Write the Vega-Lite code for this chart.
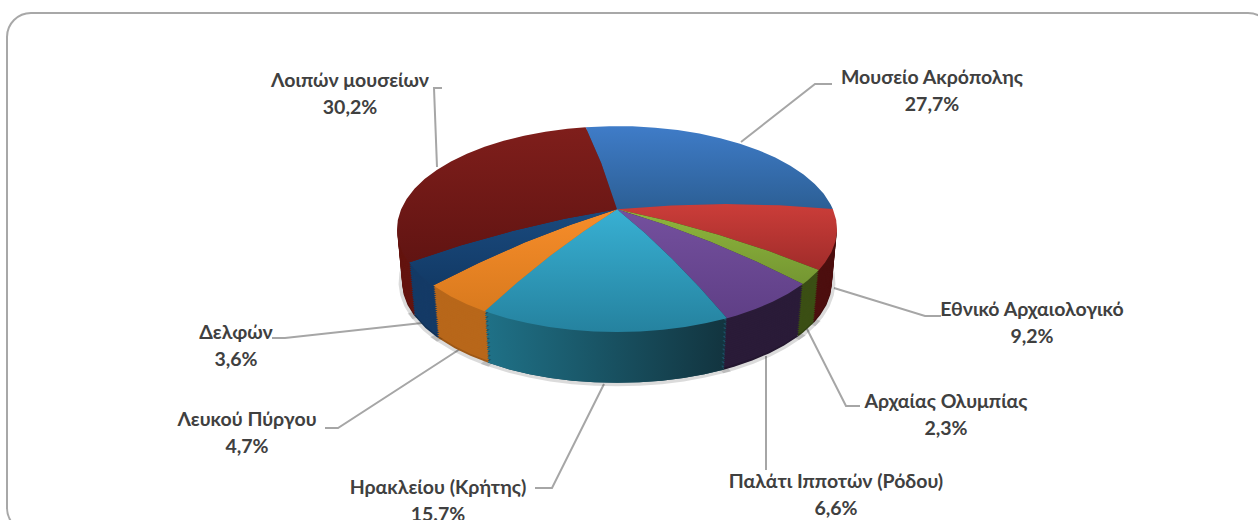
{"$schema":"https://vega.github.io/schema/vega-lite/v6.json","width":1258,"height":520,"padding":0,"autosize":"none","background":"#ffffff","view":{"stroke":null},
"datasets":{
"slices":[
{"type":"Feature","properties":{"name":"Μουσείο Ακρόπολης","share":27.7},"geometry":{"type":"Polygon","coordinates":[[[0,89.99],[188.2,78.3],[182,78.3],[176,78.3],[170,78.3],[164,78.3],[158,78.3],[152,78.3],[146,78.3],[140,78.3],[134,78.3],[128,78.3],[122,78.3],[116,78.3],[110,78.3],[104,78.3],[101.2,78.3],[0,89.99]]]}},
{"type":"Feature","properties":{"name":"Εθνικό Αρχαιολογικό","share":9.2},"geometry":{"type":"Polygon","coordinates":[[[0,89.99],[101.2,78.3],[95,78.3],[89,78.3],[83,78.3],[77,78.3],[71,78.3],[66.6,78.3],[0,89.99]]]}},
{"type":"Feature","properties":{"name":"Αρχαίας Ολυμπίας","share":2.3},"geometry":{"type":"Polygon","coordinates":[[[0,89.99],[66.6,78.3],[60,78.3],[57.7,78.3],[0,89.99]]]}},
{"type":"Feature","properties":{"name":"Παλάτι Ιπποτών (Ρόδου)","share":6.6},"geometry":{"type":"Polygon","coordinates":[[[0,89.99],[57.7,78.3],[51,78.3],[45,78.3],[39,78.3],[33,78.3],[30,78.3],[0,89.99]]]}},
{"type":"Feature","properties":{"name":"Ηρακλείου (Κρήτης)","share":15.7},"geometry":{"type":"Polygon","coordinates":[[[0,89.99],[30,78.3],[24,78.3],[18,78.3],[12,78.3],[6,78.3],[0,78.3],[-6,78.3],[-12,78.3],[-18,78.3],[-24,78.3],[-30,78.3],[-37,78.3],[0,89.99]]]}},
{"type":"Feature","properties":{"name":"Λευκού Πύργου","share":4.7},"geometry":{"type":"Polygon","coordinates":[[[0,89.99],[-37,78.3],[-43,78.3],[-49,78.3],[-56.7,78.3],[0,89.99]]]}},
{"type":"Feature","properties":{"name":"Δελφών","share":3.6},"geometry":{"type":"Polygon","coordinates":[[[0,89.99],[-56.7,78.3],[-63,78.3],[-71,78.3],[0,89.99]]]}},
{"type":"Feature","properties":{"name":"Λοιπών μουσείων","share":30.2},"geometry":{"type":"Polygon","coordinates":[[[0,89.99],[-71,78.3],[-77,78.3],[-83,78.3],[-89,78.3],[-95,78.3],[-101,78.3],[-107,78.3],[-113,78.3],[-119,78.3],[-125,78.3],[-131,78.3],[-137,78.3],[-143,78.3],[-149,78.3],[-155,78.3],[-161,78.3],[-167,78.3],[-171.8,78.3],[0,89.99]]]}}
],
"labels":[
{"label":"Μουσείο Ακρόπολης\n27,7%","labelX":932,"labelY":78},
{"label":"Εθνικό Αρχαιολογικό\n9,2%","labelX":1032,"labelY":310},
{"label":"Αρχαίας Ολυμπίας\n2,3%","labelX":946,"labelY":402},
{"label":"Παλάτι Ιπποτών (Ρόδου)\n6,6%","labelX":836,"labelY":482},
{"label":"Ηρακλείου (Κρήτης)\n15.7%","labelX":438,"labelY":488},
{"label":"Λευκού Πύργου\n4,7%","labelX":247,"labelY":420},
{"label":"Δελφών\n3,6%","labelX":236,"labelY":333},
{"label":"Λοιπών μουσείων\n30,2%","labelX":350,"labelY":81}
],
"leaders":[
{"id":"a","i":0,"px":741,"py":142},{"id":"a","i":1,"px":815,"py":84},{"id":"a","i":2,"px":832,"py":84},
{"id":"b","i":0,"px":834,"py":288},{"id":"b","i":1,"px":925,"py":316},{"id":"b","i":2,"px":941,"py":316},
{"id":"c","i":0,"px":806,"py":327},{"id":"c","i":1,"px":846,"py":406},{"id":"c","i":2,"px":860,"py":406},
{"id":"d","i":0,"px":766,"py":356},{"id":"d","i":1,"px":766,"py":470},
{"id":"e","i":0,"px":604,"py":384},{"id":"e","i":1,"px":552,"py":488},{"id":"e","i":2,"px":535,"py":488},
{"id":"f","i":0,"px":460,"py":349},{"id":"f","i":1,"px":338,"py":428},{"id":"f","i":2,"px":325,"py":428},
{"id":"g","i":0,"px":422,"py":323},{"id":"g","i":1,"px":285,"py":338},{"id":"g","i":2,"px":272,"py":338},
{"id":"h","i":0,"px":437,"py":167},{"id":"h","i":1,"px":434,"py":88},{"id":"h","i":2,"px":442,"py":88}
],
"frame":[{"x0":7,"x1":1272,"y0":13,"y1":532}]
},
"layer":[
{"data":{"name":"frame"},"mark":{"type":"rect","filled":false,"stroke":"#a8a8a8","strokeWidth":2,"cornerRadius":24,"clip":true},
"encoding":{"x":{"field":"x0","type":"quantitative","axis":null,"scale":{"domain":[0,1258],"nice":false,"zero":false}},"x2":{"field":"x1"},"y":{"field":"y0","type":"quantitative","axis":null,"scale":{"domain":[520,0],"nice":false,"zero":false}},"y2":{"field":"y1"}}},
{"data":{"name":"leaders"},"mark":{"type":"line","stroke":"#a6a6a6","strokeWidth":2,"interpolate":"linear"},
"encoding":{"x":{"field":"px","type":"quantitative","axis":null,"scale":{"domain":[0,1258],"nice":false,"zero":false}},"y":{"field":"py","type":"quantitative","axis":null,"scale":{"domain":[520,0],"nice":false,"zero":false}},"detail":{"field":"id"},"order":{"field":"i"}}},
{"data":{"name":"slices"},
"encoding":{"color":{"field":"properties.name","type":"nominal","legend":null,"scale":{
"domain":["Μουσείο Ακρόπολης","Εθνικό Αρχαιολογικό","Αρχαίας Ολυμπίας","Παλάτι Ιπποτών (Ρόδου)","Ηρακλείου (Κρήτης)","Λευκού Πύργου","Δελφών","Λοιπών μουσείων"],
"range":["#2a5a8c","#4d0f0f","#3b4f14","#2a1b38","#1a5266","#b8671a","#143a66","#64140f"]}}},
"layer":[
{"mark":{"type":"geoshape","stroke":"#000000","strokeOpacity":0.14,"strokeWidth":7},"projection":{"type":"orthographic","rotate":[0,-27.9,0],"precision":0.5,"scale":1060,"translate":[617,1199.6]}},
{"mark":{"type":"geoshape"},"projection":{"type":"orthographic","rotate":[0,-27.9,0],"precision":0.505,"scale":1061.04,"translate":[617,1198.28]}},
{"mark":{"type":"geoshape"},"projection":{"type":"orthographic","rotate":[0,-27.9,0],"precision":0.51,"scale":1062.08,"translate":[617,1196.97]}},
{"mark":{"type":"geoshape"},"projection":{"type":"orthographic","rotate":[0,-27.9,0],"precision":0.515,"scale":1063.13,"translate":[617,1195.65]}},
{"mark":{"type":"geoshape"},"projection":{"type":"orthographic","rotate":[0,-27.9,0],"precision":0.52,"scale":1064.17,"translate":[617,1194.33]}},
{"mark":{"type":"geoshape"},"projection":{"type":"orthographic","rotate":[0,-27.9,0],"precision":0.525,"scale":1065.21,"translate":[617,1193.02]}},
{"mark":{"type":"geoshape"},"projection":{"type":"orthographic","rotate":[0,-27.9,0],"precision":0.53,"scale":1066.25,"translate":[617,1191.7]}},
{"mark":{"type":"geoshape"},"projection":{"type":"orthographic","rotate":[0,-27.9,0],"precision":0.535,"scale":1067.29,"translate":[617,1190.38]}},
{"mark":{"type":"geoshape"},"projection":{"type":"orthographic","rotate":[0,-27.9,0],"precision":0.54,"scale":1068.33,"translate":[617,1189.07]}},
{"mark":{"type":"geoshape"},"projection":{"type":"orthographic","rotate":[0,-27.9,0],"precision":0.545,"scale":1069.38,"translate":[617,1187.75]}},
{"mark":{"type":"geoshape"},"projection":{"type":"orthographic","rotate":[0,-27.9,0],"precision":0.55,"scale":1070.42,"translate":[617,1186.43]}},
{"mark":{"type":"geoshape"},"projection":{"type":"orthographic","rotate":[0,-27.9,0],"precision":0.555,"scale":1071.46,"translate":[617,1185.12]}},
{"mark":{"type":"geoshape"},"projection":{"type":"orthographic","rotate":[0,-27.9,0],"precision":0.56,"scale":1072.5,"translate":[617,1183.8]}},
{"mark":{"type":"geoshape"},"projection":{"type":"orthographic","rotate":[0,-27.9,0],"precision":0.565,"scale":1073.54,"translate":[617,1182.48]}},
{"mark":{"type":"geoshape"},"projection":{"type":"orthographic","rotate":[0,-27.9,0],"precision":0.57,"scale":1074.58,"translate":[617,1181.17]}},
{"mark":{"type":"geoshape"},"projection":{"type":"orthographic","rotate":[0,-27.9,0],"precision":0.575,"scale":1075.63,"translate":[617,1179.85]}},
{"mark":{"type":"geoshape"},"projection":{"type":"orthographic","rotate":[0,-27.9,0],"precision":0.58,"scale":1076.67,"translate":[617,1178.53]}},
{"mark":{"type":"geoshape"},"projection":{"type":"orthographic","rotate":[0,-27.9,0],"precision":0.585,"scale":1077.71,"translate":[617,1177.22]}},
{"mark":{"type":"geoshape"},"projection":{"type":"orthographic","rotate":[0,-27.9,0],"precision":0.59,"scale":1078.75,"translate":[617,1175.9]}},
{"mark":{"type":"geoshape"},"projection":{"type":"orthographic","rotate":[0,-27.9,0],"precision":0.595,"scale":1079.79,"translate":[617,1174.58]}},
{"mark":{"type":"geoshape"},"projection":{"type":"orthographic","rotate":[0,-27.9,0],"precision":0.6,"scale":1080.83,"translate":[617,1173.27]}},
{"mark":{"type":"geoshape"},"projection":{"type":"orthographic","rotate":[0,-27.9,0],"precision":0.605,"scale":1081.88,"translate":[617,1171.95]}},
{"mark":{"type":"geoshape"},"projection":{"type":"orthographic","rotate":[0,-27.9,0],"precision":0.61,"scale":1082.92,"translate":[617,1170.63]}},
{"mark":{"type":"geoshape"},"projection":{"type":"orthographic","rotate":[0,-27.9,0],"precision":0.615,"scale":1083.96,"translate":[617,1169.32]}}
]},
{"data":{"name":"slices"},"transform":[{"filter":"datum.properties.name==='Ηρακλείου (Κρήτης)'"}],
"layer":[
{"mark":{"type":"geoshape","fill":{"gradient":"linear","x1":0,"y1":0,"x2":1,"y2":0,"stops":[{"offset":0,"color":"#1f7187"},{"offset":1,"color":"#12343f"}]}},"projection":{"type":"orthographic","rotate":[0,-27.9,0],"precision":0.5,"scale":1060,"translate":[617,1199.6]}},
{"mark":{"type":"geoshape","fill":{"gradient":"linear","x1":0,"y1":0,"x2":1,"y2":0,"stops":[{"offset":0,"color":"#1f7187"},{"offset":1,"color":"#12343f"}]}},"projection":{"type":"orthographic","rotate":[0,-27.9,0],"precision":0.51,"scale":1062.08,"translate":[617,1196.97]}},
{"mark":{"type":"geoshape","fill":{"gradient":"linear","x1":0,"y1":0,"x2":1,"y2":0,"stops":[{"offset":0,"color":"#1f7187"},{"offset":1,"color":"#12343f"}]}},"projection":{"type":"orthographic","rotate":[0,-27.9,0],"precision":0.52,"scale":1064.17,"translate":[617,1194.33]}},
{"mark":{"type":"geoshape","fill":{"gradient":"linear","x1":0,"y1":0,"x2":1,"y2":0,"stops":[{"offset":0,"color":"#1f7187"},{"offset":1,"color":"#12343f"}]}},"projection":{"type":"orthographic","rotate":[0,-27.9,0],"precision":0.53,"scale":1066.25,"translate":[617,1191.7]}},
{"mark":{"type":"geoshape","fill":{"gradient":"linear","x1":0,"y1":0,"x2":1,"y2":0,"stops":[{"offset":0,"color":"#1f7187"},{"offset":1,"color":"#12343f"}]}},"projection":{"type":"orthographic","rotate":[0,-27.9,0],"precision":0.54,"scale":1068.33,"translate":[617,1189.07]}},
{"mark":{"type":"geoshape","fill":{"gradient":"linear","x1":0,"y1":0,"x2":1,"y2":0,"stops":[{"offset":0,"color":"#1f7187"},{"offset":1,"color":"#12343f"}]}},"projection":{"type":"orthographic","rotate":[0,-27.9,0],"precision":0.55,"scale":1070.42,"translate":[617,1186.43]}},
{"mark":{"type":"geoshape","fill":{"gradient":"linear","x1":0,"y1":0,"x2":1,"y2":0,"stops":[{"offset":0,"color":"#1f7187"},{"offset":1,"color":"#12343f"}]}},"projection":{"type":"orthographic","rotate":[0,-27.9,0],"precision":0.56,"scale":1072.5,"translate":[617,1183.8]}},
{"mark":{"type":"geoshape","fill":{"gradient":"linear","x1":0,"y1":0,"x2":1,"y2":0,"stops":[{"offset":0,"color":"#1f7187"},{"offset":1,"color":"#12343f"}]}},"projection":{"type":"orthographic","rotate":[0,-27.9,0],"precision":0.57,"scale":1074.58,"translate":[617,1181.17]}},
{"mark":{"type":"geoshape","fill":{"gradient":"linear","x1":0,"y1":0,"x2":1,"y2":0,"stops":[{"offset":0,"color":"#1f7187"},{"offset":1,"color":"#12343f"}]}},"projection":{"type":"orthographic","rotate":[0,-27.9,0],"precision":0.58,"scale":1076.67,"translate":[617,1178.53]}},
{"mark":{"type":"geoshape","fill":{"gradient":"linear","x1":0,"y1":0,"x2":1,"y2":0,"stops":[{"offset":0,"color":"#1f7187"},{"offset":1,"color":"#12343f"}]}},"projection":{"type":"orthographic","rotate":[0,-27.9,0],"precision":0.59,"scale":1078.75,"translate":[617,1175.9]}},
{"mark":{"type":"geoshape","fill":{"gradient":"linear","x1":0,"y1":0,"x2":1,"y2":0,"stops":[{"offset":0,"color":"#1f7187"},{"offset":1,"color":"#12343f"}]}},"projection":{"type":"orthographic","rotate":[0,-27.9,0],"precision":0.6,"scale":1080.83,"translate":[617,1173.27]}},
{"mark":{"type":"geoshape","fill":{"gradient":"linear","x1":0,"y1":0,"x2":1,"y2":0,"stops":[{"offset":0,"color":"#1f7187"},{"offset":1,"color":"#12343f"}]}},"projection":{"type":"orthographic","rotate":[0,-27.9,0],"precision":0.61,"scale":1082.92,"translate":[617,1170.63]}}
]},
{"data":{"name":"slices"},"projection":{"type":"orthographic","rotate":[0,-27.9,0],"precision":0.62,"scale":1085,"translate":[617,1168]},
"layer":[
{"transform":[{"filter":"datum.properties.name==='Μουσείο Ακρόπολης'"}],"mark":{"type":"geoshape","fill":{"gradient":"linear","x1":0,"y1":0,"x2":0,"y2":1,"stops":[{"offset":0,"color":"#3f7cc8"},{"offset":1,"color":"#2c5f95"}]}}},
{"transform":[{"filter":"datum.properties.name==='Εθνικό Αρχαιολογικό'"}],"mark":{"type":"geoshape","fill":{"gradient":"linear","x1":0,"y1":0,"x2":0,"y2":1,"stops":[{"offset":0,"color":"#cb3d39"},{"offset":1,"color":"#a02c2a"}]}}},
{"transform":[{"filter":"datum.properties.name==='Αρχαίας Ολυμπίας'"}],"mark":{"type":"geoshape","fill":{"gradient":"linear","x1":0,"y1":0,"x2":0,"y2":1,"stops":[{"offset":0,"color":"#8fb63c"},{"offset":1,"color":"#749632"}]}}},
{"transform":[{"filter":"datum.properties.name==='Παλάτι Ιπποτών (Ρόδου)'"}],"mark":{"type":"geoshape","fill":{"gradient":"linear","x1":0,"y1":0,"x2":0,"y2":1,"stops":[{"offset":0,"color":"#74509e"},{"offset":1,"color":"#5f3f86"}]}}},
{"transform":[{"filter":"datum.properties.name==='Ηρακλείου (Κρήτης)'"}],"mark":{"type":"geoshape","fill":{"gradient":"linear","x1":0,"y1":0,"x2":0,"y2":1,"stops":[{"offset":0,"color":"#38b0d3"},{"offset":1,"color":"#25829f"}]}}},
{"transform":[{"filter":"datum.properties.name==='Λευκού Πύργου'"}],"mark":{"type":"geoshape","fill":{"gradient":"linear","x1":0,"y1":0,"x2":0,"y2":1,"stops":[{"offset":0,"color":"#f78d2a"},{"offset":1,"color":"#d97a1e"}]}}},
{"transform":[{"filter":"datum.properties.name==='Δελφών'"}],"mark":{"type":"geoshape","fill":{"gradient":"linear","x1":0,"y1":0,"x2":0,"y2":1,"stops":[{"offset":0,"color":"#1a4a7e"},{"offset":1,"color":"#123a66"}]}}},
{"transform":[{"filter":"datum.properties.name==='Λοιπών μουσείων'"}],"mark":{"type":"geoshape","fill":{"gradient":"linear","x1":0,"y1":0,"x2":0,"y2":1,"stops":[{"offset":0,"color":"#7f1e1b"},{"offset":1,"color":"#611412"}]}}}
]},
{"data":{"name":"labels"},"mark":{"type":"text","font":"Lato","fontWeight":"bold","fontSize":19.5,"fill":"#404040","lineBreak":"\n","lineHeight":27,"align":"center","baseline":"middle"},
"encoding":{"text":{"field":"label"},"x":{"field":"labelX","type":"quantitative","axis":null,"scale":{"domain":[0,1258],"nice":false,"zero":false}},"y":{"field":"labelY","type":"quantitative","axis":null,"scale":{"domain":[520,0],"nice":false,"zero":false}}}}
]}
